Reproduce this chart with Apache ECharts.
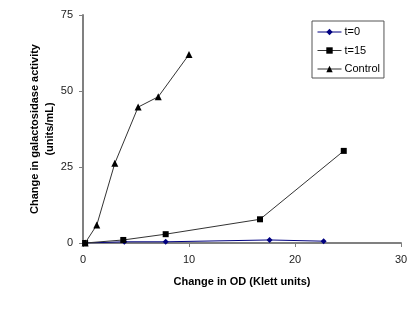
<!DOCTYPE html>
<html><head><meta charset="utf-8">
<script src="https://cdn.jsdelivr.net/npm/echarts@6/dist/echarts.min.js"></script>
<style>html,body{margin:0;padding:0;background:#fff}#c{width:415px;height:310px}</style>
</head><body><div id="c"></div>
<script>
const seriesNames = ['t=0', 't=15', 'Control'];
const t0X = [0.2, 3.9, 7.8, 17.6, 22.7];
const t0Y = [0, 0.4, 0.4, 1.0, 0.6];
const t15X = [0.2, 3.8, 7.8, 16.7, 24.6];
const t15Y = [0, 1.0, 2.9, 7.8, 30.3];
const ctrlX = [0.2, 1.3, 3.0, 5.2, 7.1, 10.0];
const ctrlY = [0, 5.9, 26.2, 44.7, 48.1, 62.0];
const xTicks = [0, 10, 20, 30];
const yTicks = [0, 25, 50, 75];

const pairs = (xs, ys) => xs.map((x, i) => [x, ys[i]]);
const font = 'Liberation Sans, Arial, sans-serif';
const chart = echarts.init(document.getElementById('c'), null, {renderer: 'canvas'});
chart.setOption({
  animation: false,
  backgroundColor: '#fff',
  grid: {left: 83, right: 14, top: 15, bottom: 67, containLabel: false},
  legend: {
    orient: 'vertical', left: 312, top: 21,
    data: seriesNames,
    itemWidth: 24, itemHeight: 8, itemGap: 7.5,
    padding: [5.5, 4, 3.5, 5],
    borderColor: '#555', borderWidth: 1,
    lineStyle: {width: 1},
    textStyle: {fontFamily: font, fontSize: 11, color: '#000', padding: [0, 0, 0, -2]}
  },
  xAxis: {
    type: 'value', min: xTicks[0], max: xTicks[xTicks.length - 1], interval: 10,
    name: 'Change in OD (Klett units)', nameLocation: 'middle', nameGap: 33,
    nameMoveOverlap: false,
    nameTextStyle: {fontFamily: font, fontSize: 11, fontWeight: 'bold', color: '#000'},
    axisLine: {lineStyle: {color: '#808080', width: 2}},
    axisTick: {show: true, length: 4, lineStyle: {color: '#808080', width: 1}},
    axisLabel: {fontFamily: font, fontSize: 11, color: '#222', margin: 11},
    splitLine: {show: false}
  },
  yAxis: {
    type: 'value', min: yTicks[0], max: yTicks[yTicks.length - 1], interval: 25,
    name: 'Change in galactosidase activity\n(units/mL)', nameLocation: 'middle', nameGap: 26,
    nameRotate: 90, nameMoveOverlap: false,
    nameTextStyle: {fontFamily: font, fontSize: 11, fontWeight: 'bold', color: '#000', lineHeight: 15},
    axisLine: {lineStyle: {color: '#808080', width: 2}},
    axisTick: {show: true, length: 4, lineStyle: {color: '#808080', width: 1}},
    axisLabel: {fontFamily: font, fontSize: 11, color: '#222', margin: 10},
    splitLine: {show: false}
  },
  series: [
    {name: seriesNames[0], type: 'line', data: pairs(t0X, t0Y), symbol: 'diamond', symbolSize: 6,
     itemStyle: {color: '#000080'}, lineStyle: {color: '#000080', width: 1}, z: 3},
    {name: seriesNames[1], type: 'line', data: pairs(t15X, t15Y), symbol: 'rect', symbolSize: 6,
     itemStyle: {color: '#000'}, lineStyle: {color: '#333', width: 1}, z: 4},
    {name: seriesNames[2], type: 'line', data: pairs(ctrlX, ctrlY), symbol: 'triangle', symbolSize: 7,
     itemStyle: {color: '#000'}, lineStyle: {color: '#333', width: 1}, z: 5}
  ]
});
</script></body></html>
